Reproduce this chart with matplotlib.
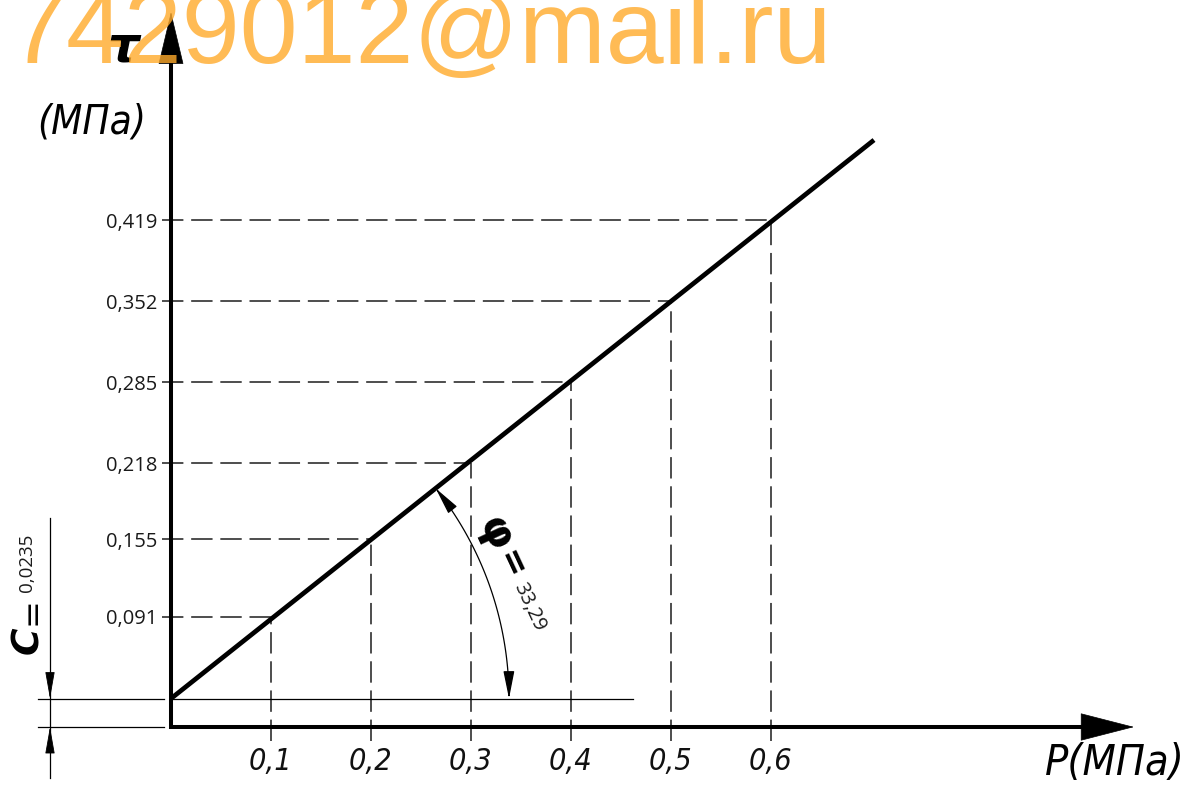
import numpy as np
import matplotlib
matplotlib.use('Agg')
import matplotlib.pyplot as plt
from matplotlib import font_manager as fm
from matplotlib.font_manager import FontProperties
from matplotlib.patches import FancyArrowPatch, ArrowStyle
from matplotlib.path import Path

# ---------------- data ----------------
p_ticks = [0.1, 0.2, 0.3, 0.4, 0.5, 0.6]
p_labels = ['0,1', '0,2', '0,3', '0,4', '0,5', '0,6']
tau_values = [0.091, 0.155, 0.218, 0.285, 0.352, 0.419]
tau_labels = ['0,091', '0,155', '0,218', '0,285', '0,352', '0,419']
cohesion = 0.0235
cohesion_label = '0,0235'
phi_deg = 33.29
phi_label = '33,29'
p_line_end = 0.703
watermark = '7429012@mail.ru'


def has_font(name):
    try:
        fm.findfont(FontProperties(family=name), fallback_to_default=False)
        return True
    except Exception:
        return False


# look for a narrow italic font (technical-drawing look)
tech_file = None
pref = ['LiberationSansNarrow', 'DejaVuSansCondensed', 'RobotoCondensed', 'OpenSansCondensed', 'Condensed', 'Narrow']
cands = [f for f in fm.fontManager.ttflist
         if ('Condensed' in f.fname or 'Narrow' in f.fname)
         and f.style in ('italic', 'oblique')
         and str(f.weight) in ('400', 'normal', 'regular', 'book')]
for key in pref:
    hit = [f for f in cands if key in f.fname.replace(' ', '').replace('-', '')]
    if hit:
        tech_file = hit[0].fname
        break
if tech_file:
    def tech(size):
        return FontProperties(fname=tech_file, size=size)
    TS = 1.0
else:
    def tech(size):
        return FontProperties(family='DejaVu Sans', style='italic', size=size)
    TS = 0.8

PLAIN = 'Open Sans' if has_font('Open Sans') else 'DejaVu Sans'
WM = 'Liberation Sans' if has_font('Liberation Sans') else 'DejaVu Sans'

# ---------------- layout ----------------
W, H = 1183, 787
SX, SY = 1000.0, 1210.0      # pixels per MPa
X0, Y0 = 171, 727            # pixel position of the origin (from top-left)

fig = plt.figure(figsize=(W / 100, H / 100), dpi=100)
ax = fig.add_axes([0, 0, 1, 1])
ax.set_xlim(-X0 / SX, (W - X0) / SX)
ax.set_ylim(-(H - Y0) / SY, Y0 / SY)
ax.axis('off')


def px(x, y):
    return (x - X0) / SX, (Y0 - y) / SY


tan_phi = np.tan(np.radians(phi_deg))

# axes (thick L) with arrow heads
ax.plot([0, 0, px(1090, 0)[0]], [px(0, 58)[1], 0, 0], color='black', lw=2.9,
        solid_joinstyle='miter', solid_capstyle='butt', zorder=5)
for a, b, hl, hw in [(px(171, 62), px(171, 12), 36, 8.6),
                     (px(1082, 727), px(1134, 727), 37, 9.5)]:
    ax.add_patch(FancyArrowPatch(posA=a, posB=b, shrinkA=0, shrinkB=0,
                                 arrowstyle=ArrowStyle('-|>', head_length=hl, head_width=hw),
                                 mutation_scale=1, lw=0.5, color='black', zorder=6))

# Coulomb line
p_line = np.array([0.0, p_line_end])
ax.plot(p_line, cohesion + p_line * tan_phi, color='black', lw=3.4,
        solid_capstyle='butt', zorder=4)

# dashed reference lines
DASH = '#4d4d4d'
for p, t in zip(p_ticks, tau_values):
    ax.plot([px(162, 0)[0], p], [t, t], color=DASH, lw=1.4, dashes=(11, 4), zorder=2)
    ax.plot([p, p], [px(0, 741)[1], t], color=DASH, lw=1.4, dashes=(11, 4), zorder=2)

# tick labels
for t, lab in zip(tau_values, tau_labels):
    ax.text(px(157, 0)[0], t, lab, ha='right', va='center_baseline',
            fontsize=14.5, family=PLAIN, color='#1a1a1a')
for p, lab in zip(p_ticks, p_labels):
    ax.text(p, px(0, 761)[1], lab, ha='center', va='center',
            fontproperties=tech(22 * TS), color='#111111')

# thin horizontal line through the intercept and extension lines for C
thin = dict(color='black', lw=0.9, zorder=3)
ax.plot([0, px(633, 0)[0]], [cohesion, cohesion], **thin)
ax.plot([px(38, 0)[0], px(164, 0)[0]], [cohesion, cohesion], **thin)
ax.plot([px(38, 0)[0], px(164, 0)[0]], [0, 0], **thin)
xd = px(50, 0)[0]
ax.plot([xd, xd], [px(0, 518)[1], px(0, 778)[1]], **thin)
for base, tip in [(cohesion + 25 / SY, cohesion), (-25 / SY, 0.0)]:
    ax.add_patch(FancyArrowPatch(posA=(xd, base), posB=(xd, tip), shrinkA=0, shrinkB=0,
                                 arrowstyle=ArrowStyle('-|>', head_length=17, head_width=3.0),
                                 mutation_scale=1, lw=0.6, color='black', zorder=6))

# angle arc with arrows
theta = np.arctan(tan_phi * SY / SX)
R = 338.0
tt = np.linspace(0, theta, 80)[::-1]
arc = np.column_stack([R * np.cos(tt) / SX, cohesion + R * np.sin(tt) / SY])
ax.add_patch(FancyArrowPatch(path=Path(arc), arrowstyle=ArrowStyle('<|-|>', head_length=17, head_width=3.4),
                             mutation_scale=1, lw=0.9, color='black', zorder=6))

# angle label
ax.text(*px(495, 533), '\u03c6', rotation=-65, ha='center', va='center', fontsize=31,
        family='DejaVu Sans', fontweight='bold', color='black', rotation_mode='anchor')
ax.text(*px(510, 565), '=', rotation=-65, ha='center', va='center', fontsize=24,
        family='DejaVu Sans', fontweight='bold', color='black', rotation_mode='anchor')
ax.text(*px(529, 607), phi_label, rotation=-65, ha='center', va='center', fontsize=14.5,
        family=PLAIN, color='#1a1a1a', rotation_mode='anchor')

# cohesion label
ax.text(*px(28, 640), 'C', rotation=90, ha='center', va='center',
        family='DejaVu Sans', fontstyle='italic', fontweight='bold', fontsize=27,
        color='black', rotation_mode='anchor')
ax.text(*px(32, 611), '=', rotation=90, ha='center', va='center', fontsize=24,
        family='DejaVu Sans', color='black', rotation_mode='anchor')
ax.text(*px(27, 563), cohesion_label, rotation=90, ha='center', va='center', fontsize=13.5,
        family=PLAIN, color='#1a1a1a', rotation_mode='anchor')

# axis titles
ax.text(*px(123, 48), '\u03c4', ha='center', va='center', fontsize=36,
        family='DejaVu Sans', fontstyle='italic', fontweight='bold', color='black', zorder=1)
ax.text(*px(92, 122), '(\u041c\u041f\u0430)', ha='center', va='center',
        fontproperties=tech(29 * TS), color='black')
ax.text(*px(1115, 763), 'P(\u041c\u041f\u0430)', ha='center', va='center',
        fontproperties=tech(31 * TS), color='black')

# watermark
fig.text(9 / W, 1 - 63 / H, watermark, ha='left', va='baseline', fontsize=75,
         family=WM, color=(1.0, 0.667, 0.17, 0.8), zorder=3)

fig.savefig('out.png', dpi=100)
